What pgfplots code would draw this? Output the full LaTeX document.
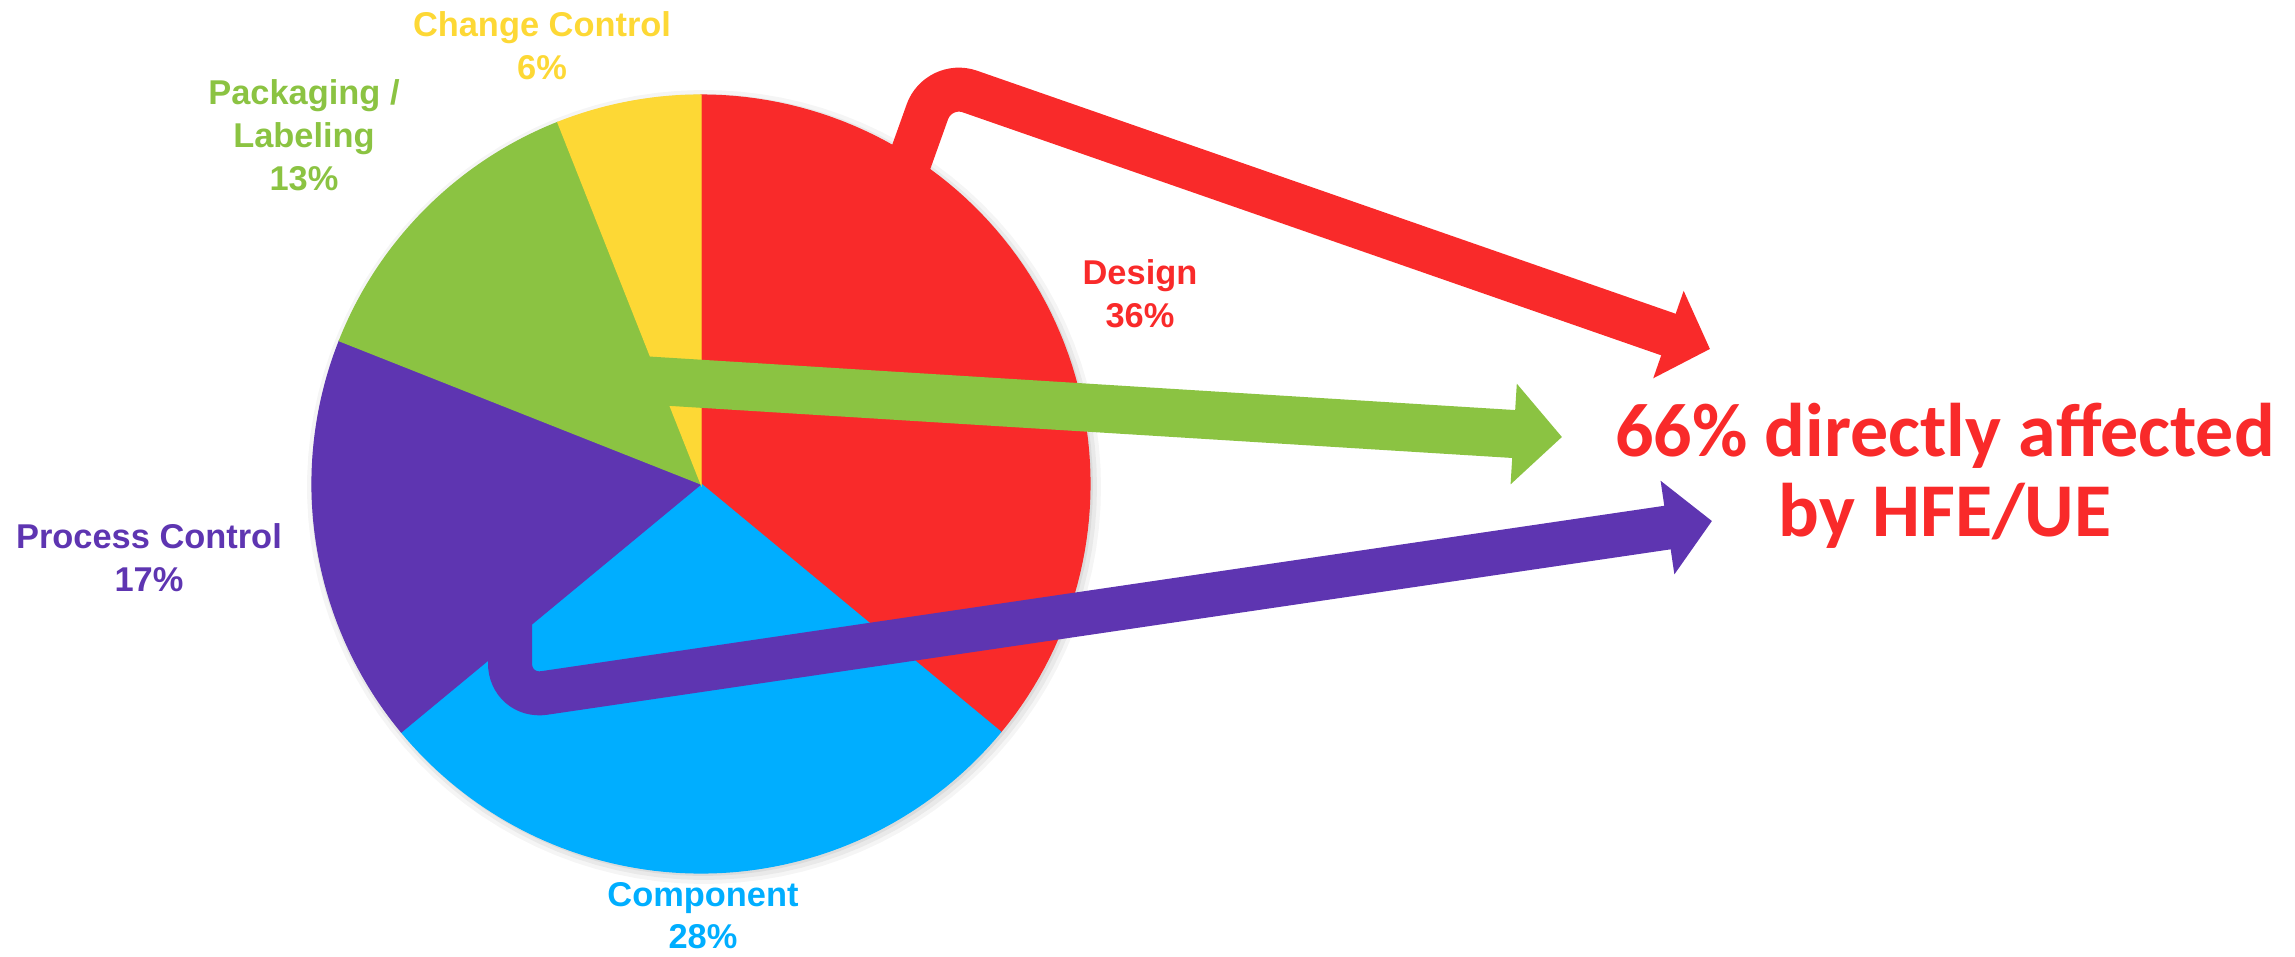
\documentclass[border=0pt]{standalone}
\usepackage{pgfplots}
\pgfplotsset{compat=1.18}
\usepackage{fontspec}
\setmainfont{Liberation Sans}
\newfontfamily\calib{Carlito}
\usetikzlibrary{arrows.meta}
\definecolor{cRed}{HTML}{F92A2A}
\definecolor{cCyan}{HTML}{00AEFF}
\definecolor{cPurple}{HTML}{5E35B1}
\definecolor{cGreen}{HTML}{8BC342}
\definecolor{cYellow}{HTML}{FDD835}
% shares (percent)
\def\pDesign{36}\def\pComp{28}\def\pProc{17}\def\pPack{13}\def\pChange{6}
\pgfmathsetmacro\aS{90}
\pgfmathsetmacro\aA{\aS-3.6*\pDesign}
\pgfmathsetmacro\aB{\aA-3.6*\pComp}
\pgfmathsetmacro\aC{\aB-3.6*\pProc}
\pgfmathsetmacro\aD{\aC-3.6*\pPack}
\pgfmathsetmacro\aE{\aD-3.6*\pChange}
\def\cx{701}\def\cy{472}\def\rr{389}
\begin{document}
\begin{tikzpicture}
\begin{axis}[x=0.25pt, y=0.25pt, xmin=0, xmax=2295, ymin=0, ymax=956,
  hide axis, axis line style={draw=none}]
\path (axis cs:0,0) rectangle (axis cs:2295,956);
% component label (first line hidden behind pie)
\node[font=\fontsize{8.6}{10.5}\selectfont\bfseries, text=cCyan, align=center] at (axis cs:703,62) {Supplier /\\Component\\28\%};
% shadow
\addplot[draw=none, fill=black, fill opacity=0.04, domain=0:360, samples=120] ({\cx+3+(\rr+8)*cos(x)},{\cy-3+(\rr+8)*sin(x)}) -- cycle;
\addplot[draw=none, fill=black, fill opacity=0.05, domain=0:360, samples=120] ({\cx+3+(\rr+4)*cos(x)},{\cy-3+(\rr+4)*sin(x)}) -- cycle;
\addplot[draw=none, fill=black, fill opacity=0.06, domain=0:360, samples=120] ({\cx+2+(\rr+1)*cos(x)},{\cy-2+(\rr+1)*sin(x)}) -- cycle;
% pie slices
\addplot[fill=cRed, draw=cRed, line width=0.3pt, domain=\aA:\aS, samples=80] ({\cx+\rr*cos(x)},{\cy+\rr*sin(x)}) -- (axis cs:\cx,\cy) -- cycle;
\addplot[fill=cCyan, draw=cCyan, line width=0.3pt, domain=\aB:\aA, samples=80] ({\cx+\rr*cos(x)},{\cy+\rr*sin(x)}) -- (axis cs:\cx,\cy) -- cycle;
\addplot[fill=cPurple, draw=cPurple, line width=0.3pt, domain=\aC:\aB, samples=60] ({\cx+\rr*cos(x)},{\cy+\rr*sin(x)}) -- (axis cs:\cx,\cy) -- cycle;
\addplot[fill=cGreen, draw=cGreen, line width=0.3pt, domain=\aD:\aC, samples=50] ({\cx+\rr*cos(x)},{\cy+\rr*sin(x)}) -- (axis cs:\cx,\cy) -- cycle;
\addplot[fill=cYellow, draw=cYellow, line width=0.3pt, domain=\aE:\aD, samples=30] ({\cx+\rr*cos(x)},{\cy+\rr*sin(x)}) -- (axis cs:\cx,\cy) -- cycle;
% arrows
\addplot[cRed, line width=11pt, rounded corners=8.3pt, -{Triangle[length=11pt,width=22.5pt]}] coordinates {(888,734) (938.5,875.4) (1710,607)};
\addplot[cGreen, line width=12pt, -{Triangle[length=12.1pt,width=24.5pt]}] coordinates {(640,576) (1562,519)};
\addplot[cPurple, line width=11pt, rounded corners=8.7pt, -{Triangle[length=11.25pt,width=23pt]}] coordinates {(510,366) (510,258) (1712,435)};
% labels
\node[font=\fontsize{8.6}{10.75}\selectfont\bfseries, text=cYellow, align=center] at (axis cs:542,910.5) {Change Control\\6\%};
\node[font=\fontsize{8.6}{10.75}\selectfont\bfseries, text=cGreen, align=center] at (axis cs:304,821) {Packaging /\\Labeling\\13\%};
\node[font=\fontsize{8.6}{10.75}\selectfont\bfseries, text=cRed, align=center] at (axis cs:1140,662.5) {Design\\36\%};
\node[font=\fontsize{8.6}{10.75}\selectfont\bfseries, text=cPurple, align=center] at (axis cs:149,398.5) {Process Control\\17\%};
\node[font=\calib\fontsize{19}{20}\selectfont\bfseries, text=cRed, align=center] at (axis cs:1945,480) {66\% directly affected\\by HFE/UE};
\end{axis}
\end{tikzpicture}
\end{document}
